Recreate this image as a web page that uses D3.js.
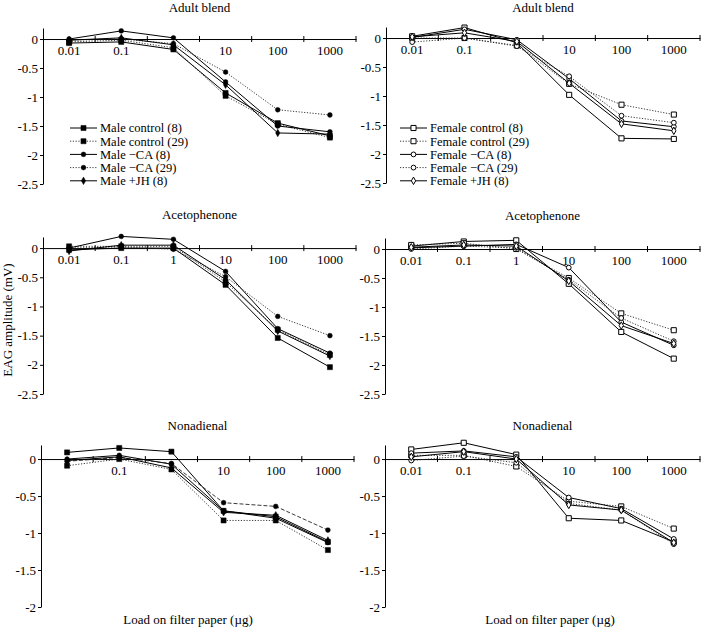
<!DOCTYPE html>
<html lang="en">
<head>
<meta charset="UTF-8">
<title>EAG dose response</title>
<style>
  body { margin: 0; background: #fff; }
  svg { display: block; font-family: 'Liberation Serif', 'Times New Roman', serif; }
  .tick text { font-family: 'Liberation Serif', serif; font-size: 13px; fill: #000; }
  .domain, .tick line, .xtick { stroke: #000; stroke-width: 1; }
  .title, .axis-title { font-size: 13px; fill: #000; }
  .legend-text { font-size: 12.5px; fill: #000; }
</style>
</head>
<body>
<script src="https://d3js.org/d3.v7.min.js"></script>
<script>
// categories (dose on filter paper, µg)
const doses = ["0.01", "0.1", "1", "10", "100", "1000"];

const maleNames = ["Male control (8)", "Male control (29)", "Male \u2212CA (8)", "Male \u2212CA (29)", "Male +JH (8)"];
const femaleNames = ["Female control (8)", "Female control (29)", "Female \u2212CA (8)", "Female \u2212CA (29)", "Female +JH (8)"];

// tick labels shown on each panel's x axis (some are hidden by the data in the original)
const labelsBlendMale = ["0.01", "0.1", "", "10", "100", "1000"];
const labelsBlendFemale = ["0.01", "0.1", "", "10", "100", "1000"];
const labelsAcetoMale = ["0.01", "0.1", "1", "10", "100", "1000"];
const labelsAcetoFemale = ["0.01", "0.1", "1", "10", "100", "1000"];
const labelsNonaMale = ["", "0.1", "", "10", "100", "1000"];
const labelsNonaFemale = ["0.01", "0.1", "", "10", "100", "1000"];

const yTicksUpper = [0, -0.5, -1, -1.5, -2, -2.5];
const yTicksLower = [0, -0.5, -1, -1.5, -2];

// EAG amplitude (mV), one row per series in the order of the names above
const blendMale = [
  [-0.07, -0.05, -0.18, -0.93, -1.45, -1.67],
  [-0.05, -0.02, -0.15, -0.98, -1.47, -1.70],
  [0.00, 0.14, 0.02, -0.74, -1.50, -1.60],
  [-0.02, 0.00, -0.08, -0.57, -1.22, -1.31],
  [-0.02, 0.02, -0.10, -0.79, -1.62, -1.64]
];
const blendFemale = [
  [0.03, 0.18, -0.08, -0.98, -1.73, -1.74],
  [0.00, 0.00, -0.13, -0.79, -1.15, -1.32],
  [0.01, 0.15, -0.03, -0.70, -1.43, -1.53],
  [-0.07, 0.00, -0.14, -0.66, -1.34, -1.46],
  [0.02, 0.09, -0.06, -0.78, -1.48, -1.60]
];
const acetoMale = [
  [-0.03, 0.00, 0.00, -0.63, -1.54, -2.04],
  [0.03, 0.03, 0.03, -0.58, -1.40, -1.83],
  [0.00, 0.20, 0.15, -0.40, -1.38, -1.80],
  [0.00, 0.02, -0.02, -0.49, -1.17, -1.50],
  [-0.05, 0.05, 0.05, -0.54, -1.42, -1.85]
];
const acetoFemale = [
  [0.05, 0.13, 0.15, -0.60, -1.43, -1.89],
  [0.07, 0.10, 0.00, -0.50, -1.11, -1.40],
  [0.02, 0.05, 0.08, -0.32, -1.26, -1.66],
  [0.00, 0.05, 0.02, -0.53, -1.19, -1.59],
  [0.03, 0.07, 0.05, -0.55, -1.32, -1.63]
];
const nonaMale = [
  [0.09, 0.15, 0.10, -0.70, -0.78, -1.12],
  [-0.09, 0.00, -0.14, -0.83, -0.83, -1.23],
  [0.00, 0.05, -0.07, -0.70, -0.80, -1.13],
  [-0.03, 0.02, -0.06, -0.59, -0.64, -0.96],
  [-0.02, 0.03, -0.12, -0.72, -0.76, -1.10]
];
const nonaFemale = [
  [0.13, 0.22, 0.06, -0.80, -0.83, -1.12],
  [0.05, 0.05, -0.10, -0.57, -0.64, -0.94],
  [0.08, 0.11, 0.03, -0.52, -0.67, -1.08],
  [-0.02, 0.04, -0.05, -0.60, -0.69, -1.15],
  [0.03, 0.10, 0.00, -0.62, -0.69, -1.13]
];

// series style: solid / dotted, marker shape
const dashes = [null, "1.2,1.6", null, "1.2,1.6", null];
const shapes = [d3.symbolSquare, d3.symbolSquare, d3.symbolCircle, d3.symbolCircle, d3.symbolDiamond];
const shapeSizes = [26, 26, 18, 18, 16];

// panel layout (pixels)
const panels = [
  { title: "Adult blend", data: blendMale, labels: labelsBlendMale, names: maleNames, open: false,
    x0: 43, x1: 356, yTop: 28, yBot: 184, vTop: 0.19, vBot: -2.5, yTicks: yTicksUpper, legend: [70, 128] },
  { title: "Adult blend", data: blendFemale, labels: labelsBlendFemale, names: femaleNames, open: true,
    x0: 386, x1: 700, yTop: 27, yBot: 183, vTop: 0.19, vBot: -2.5, yTicks: yTicksUpper, legend: [400, 128] },
  { title: "Acetophenone", data: acetoMale, labels: labelsAcetoMale, names: maleNames, open: false,
    x0: 43, x1: 356, yTop: 237, yBot: 394, vTop: 0.19, vBot: -2.5, yTicks: yTicksUpper },
  { title: "Acetophenone", data: acetoFemale, labels: labelsAcetoFemale, names: femaleNames, open: true,
    x0: 385, x1: 700, yTop: 238, yBot: 394, vTop: 0.19, vBot: -2.5, yTicks: yTicksUpper },
  { title: "Nonadienal", data: nonaMale, labels: labelsNonaMale, names: maleNames, open: false,
    x0: 41, x1: 354, yTop: 445, yBot: 607, vTop: 0.19, vBot: -2, yTicks: yTicksLower,
    xTitle: 188, caDash: "4,2" },
  { title: "Nonadienal", data: nonaFemale, labels: labelsNonaFemale, names: femaleNames, open: true,
    x0: 385, x1: 700, yTop: 445, yBot: 607, vTop: 0.19, vBot: -2, yTicks: yTicksLower, xTitle: 550 }
];

const svg = d3.select("body").append("svg")
    .attr("width", 704)
    .attr("height", 630);

function marker(sel, i, open) {
  sel.attr("d", d3.symbol().type(shapes[i]).size(shapeSizes[i]))
     .attr("fill", open ? "#fff" : "#000")
     .attr("stroke", "#000")
     .attr("stroke-width", open ? 1 : 0.5);
}

panels.forEach(p => {
  const g = svg.append("g");
  const x = d3.scaleBand().domain(doses).range([p.x0, p.x1]);
  const y = d3.scaleLinear().domain([p.vBot, p.vTop]).range([p.yBot, p.yTop]);
  const cx = d => x(d) + x.bandwidth() / 2;

  // y axis
  g.append("g")
      .attr("transform", `translate(${p.x0},0)`)
      .call(d3.axisLeft(y).tickValues(p.yTicks).tickSize(3).tickSizeOuter(0).tickPadding(2)
        .tickFormat(d => String(d)))
      .attr("font-family", null).attr("font-size", null);

  // x axis at zero, labels centred on categories
  g.append("g")
      .attr("transform", `translate(0,${y(0)})`)
      .call(d3.axisBottom(x).tickSize(0).tickSizeOuter(0).tickPadding(7)
        .tickFormat((d, i) => p.labels[i]))
      .attr("font-family", null).attr("font-size", null);

  // tick marks between categories, crossing the axis
  g.selectAll(".xtick")
    .data(d3.range(1, doses.length + 1))
    .join("line")
      .attr("class", "xtick")
      .attr("x1", i => p.x0 + x.step() * i)
      .attr("x2", i => p.x0 + x.step() * i)
      .attr("y1", y(0) - 3)
      .attr("y2", y(0) + 3);

  // title
  g.append("text")
      .attr("class", "title")
      .attr("x", (p.x0 + p.x1) / 2)
      .attr("y", Math.max(y(0) - 29, 12))
      .attr("text-anchor", "middle")
      .text(p.title);

  // lines
  const line = d3.line().x((d, i) => cx(doses[i])).y(d => y(d));
  p.data.forEach((vals, s) => {
    let dash = dashes[s];
    if (s === 3 && p.caDash) dash = p.caDash;
    g.append("path")
        .datum(vals)
        .attr("d", line)
        .attr("fill", "none")
        .attr("stroke", dash ? "#222" : "#000")
        .attr("stroke-width", dash ? 0.9 : 1)
        .attr("stroke-dasharray", dash);
  });

  // markers
  p.data.forEach((vals, s) => {
    g.selectAll(null)
      .data(vals)
      .join("path")
        .attr("transform", (d, i) => `translate(${cx(doses[i])},${y(d)})`)
        .call(marker, s, p.open);
  });

  // legend
  if (p.legend) {
    const [lx, ly] = p.legend;
    p.names.forEach((name, s) => {
      const row = g.append("g").attr("transform", `translate(${lx},${ly + s * 13.2})`);
      row.append("line")
          .attr("x1", 0).attr("x2", 27)
          .attr("stroke", dashes[s] ? "#222" : "#000")
          .attr("stroke-width", dashes[s] ? 0.9 : 1)
          .attr("stroke-dasharray", dashes[s]);
      row.append("path")
          .attr("transform", "translate(13.5,0)")
          .call(marker, s, p.open);
      row.append("text")
          .attr("class", "legend-text")
          .attr("x", 30)
          .attr("dy", "0.35em")
          .text(name);
    });
  }

  // x axis title on the bottom row
  if (p.xTitle) {
    g.append("text")
        .attr("class", "axis-title")
        .attr("x", p.xTitle)
        .attr("y", 624)
        .attr("text-anchor", "middle")
        .text("Load on filter paper (\u00b5g)");
  }
});

// y axis title
svg.append("text")
    .attr("class", "axis-title")
    .attr("transform", "translate(12,320) rotate(-90)")
    .attr("text-anchor", "middle")
    .text("EAG amplitude (mV)");
</script>
</body>
</html>
